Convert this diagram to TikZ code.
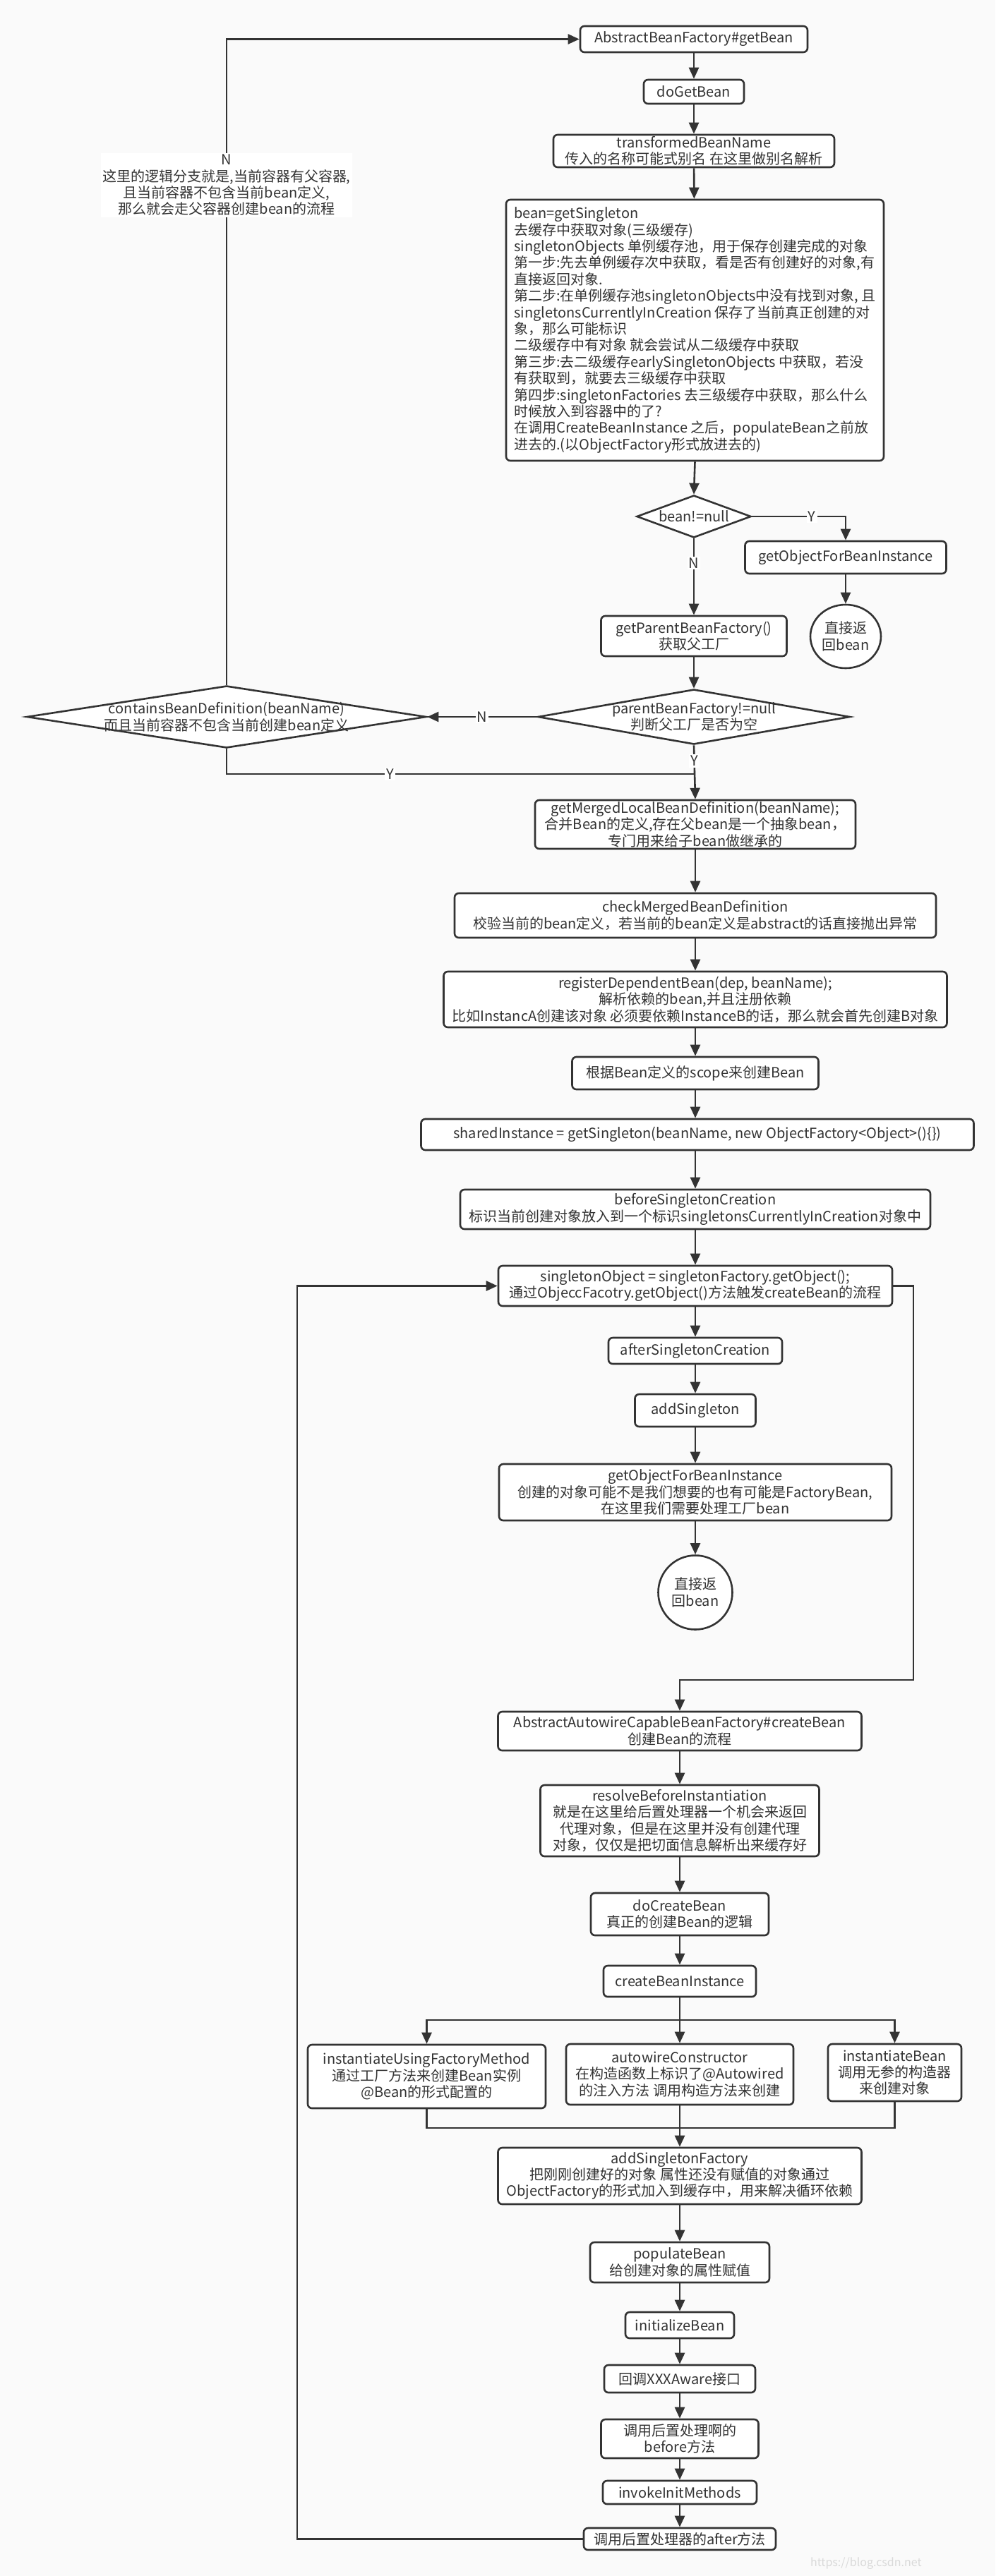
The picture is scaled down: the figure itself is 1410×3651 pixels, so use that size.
\documentclass[tikz,border=0pt]{standalone}
\usepackage{fontspec}
\setmainfont{Noto Sans CJK SC}
\usetikzlibrary{shapes.geometric,arrows.meta}
\definecolor{ink}{HTML}{333333}
\definecolor{paper}{HTML}{FAFAFA}
\tikzset{
	proc/.style={draw=ink, fill=white, line width=1.3pt, rounded corners=3pt, align=center, inner xsep=3pt, inner ysep=0pt, text=ink},
	sz/.style 2 args={minimum width=#1*0.5pt, minimum height=#2*0.5pt},
	dia/.style={diamond, draw=ink, fill=white, line width=1.3pt, inner sep=0pt},
	diatext/.style={align=center, text=ink, inner sep=0pt},
	oval/.style={ellipse, draw=ink, fill=white, line width=1.3pt, inner sep=0pt, align=center, text=ink},
	flow/.style={draw=ink, line width=1.3pt, -{Triangle[length=8pt,width=7pt]}},
	wire/.style={draw=ink, line width=1.3pt},
	lbl/.style={fill=white, inner sep=1pt, text=ink, align=center}
}

\begin{document}
\begin{tikzpicture}[x=0.5pt, y=-0.5pt, font=\fontsize{10pt}{11.7pt}\selectfont]
			%%%%% START %%%%%
			\def\mx{983}
			\def\lx{963}
			\def\rx{1198}
			\def\cx{321}

			\fill[paper] (0,0) rectangle (1410,3651);
			\useasboundingbox (0,0) rectangle (1410,3651);

			% getBean part
			\node[proc, sz={322}{37}] (getbean) at (\mx,55.5) {AbstractBeanFactory\#getBean};
			\node[proc, sz={142}{34}] (dogetbean) at (\mx,130) {doGetBean};
			\node[proc, sz={398}{46}] (transname) at (\mx,214) {transformedBeanName\\传入的名称可能式别名 在这里做别名解析};
			\node[proc, sz={535}{370}, align=left] (getsingleton) at (984.5,468) {bean=getSingleton\\
去缓存中获取对象(三级缓存)\\
singletonObjects 单例缓存池，用于保存创建完成的对象\\
第一步:先去单例缓存次中获取，看是否有创建好的对象,有\\
直接返回对象.\\
第二步:在单例缓存池singletonObjects中没有找到对象, 且\\
singletonsCurrentlyInCreation 保存了当前真正创建的对\\
象，那么可能标识\\
二级缓存中有对象 就会尝试从二级缓存中获取\\
第三步:去二级缓存earlySingletonObjects 中获取，若没\\
有获取到，就要去三级缓存中获取\\
第四步:singletonFactories 去三级缓存中获取，那么什么\\
时候放入到容器中的了?\\
在调用CreateBeanInstance 之后，populateBean之前放\\
进去的.(以ObjectFactory形式放进去的)};

			\node[dia, sz={162}{60}] (beannull) at (\mx,732) {};
			\node[diatext] (beannulltext) at (beannull) {bean!=null};
			\node[proc, sz={285}{46}] (getobjone) at (\rx,790) {getObjectForBeanInstance};
			\node[oval, sz={100}{90}] (retone) at (\rx,902) {直接返\\回bean};
			\node[proc, sz={263}{57}] (getparent) at (\mx,901.5) {getParentBeanFactory()\\获取父工厂};
			\node[dia, sz={442}{78}] (parentnull) at (\mx,1016) {};
			\node[diatext] (parentnulltext) at (parentnull) {parentBeanFactory!=null\\判断父工厂是否为空};
			\node[dia, sz={566}{88}] (containsdef) at (\cx,1016) {};
			\node[diatext] (containsdeftext) at (containsdef) {containsBeanDefinition(beanName)\\而且当前容器不包含当前创建bean定义};
			\coordinate (yjoin) at (\mx,1097);

			% merged definition and singleton
			\node[proc, sz={454}{69}] (getmerged) at (985,1168.5) {getMergedLocalBeanDefinition(beanName);\\合并Bean的定义,存在父bean是一个抽象bean，\\专门用来给子bean做继承的};
			\node[proc, sz={682}{63}] (checkmerged) at (985,1297.5) {checkMergedBeanDefinition\\校验当前的bean定义，若当前的bean定义是abstract的话直接抛出异常};
			\node[proc, sz={713}{79}] (registerdep) at (985,1416.5) {registerDependentBean(dep, beanName);\\解析依赖的bean,并且注册依赖\\比如InstancA创建该对象 必须要依赖InstanceB的话，那么就会首先创建B对象};
			\node[proc, sz={349}{46}] (byscope) at (985,1521) {根据Bean定义的scope来创建Bean};
			\node[proc, sz={783}{44}] (sharedinst) at (988,1608) {sharedInstance = getSingleton(beanName, new ObjectFactory<Object>()\{\})};
			\node[proc, sz={666}{56}] (beforesingle) at (985,1714) {beforeSingletonCreation\\标识当前创建对象放入到一个标识singletonsCurrentlyInCreation对象中};
			\node[proc, sz={558}{57}] (singleobj) at (985,1822.5) {singletonObject = singletonFactory.getObject();\\通过ObjeccFacotry.getObject()方法触发createBean的流程};
			\node[proc, sz={246}{37}] (aftersingle) at (985,1914.5) {afterSingletonCreation};
			\node[proc, sz={171}{46}] (addsingle) at (985,1999) {addSingleton};
			\node[proc, sz={556}{80}] (getobjtwo) at (985,2115) {getObjectForBeanInstance\\创建的对象可能不是我们想要的也有可能是FactoryBean,\\在这里我们需要处理工厂bean};
			\node[oval, sz={105}{105}] (rettwo) at (985,2257) {直接返\\回bean};
			\coordinate (loopr) at (1294,2381);
			\coordinate (loopl) at (421,1822.5);

			% createBean part
			\node[proc, sz={515}{55}] (createbean) at (\lx,2453.5) {AbstractAutowireCapableBeanFactory\#createBean\\创建Bean的流程};
			\node[proc, sz={395}{101}] (resolvebefore) at (\lx,2580.5) {resolveBeforeInstantiation\\就是在这里给后置处理器一个机会来返回\\代理对象，但是在这里并没有创建代理\\对象，仅仅是把切面信息解析出来缓存好};
			\node[proc, sz={252}{60}] (docreate) at (\lx,2713) {doCreateBean\\真正的创建Bean的逻辑};
			\node[proc, sz={216}{44}] (createinst) at (\lx,2808) {createBeanInstance};
			\coordinate (split) at (\lx,2863);
			\node[proc, sz={337}{90}] (factorymeth) at (604.5,2943) {instantiateUsingFactoryMethod\\通过工厂方法来创建Bean实例\\@Bean的形式配置的};
			\node[proc, sz={322}{86}] (autowirecons) at (\lx,2940) {autowireConstructor\\在构造函数上标识了@Autowired\\的注入方法 调用构造方法来创建};
			\node[proc, sz={189}{81}] (instbean) at (1267.5,2937.5) {instantiateBean\\调用无参的构造器\\来创建对象};
			\coordinate (merge) at (\lx,3016);
			\node[proc, sz={515}{80}] (addfactory) at (\lx,3084) {addSingletonFactory\\把刚刚创建好的对象 属性还没有赋值的对象通过\\ObjectFactory的形式加入到缓存中，用来解决循环依赖};
			\node[proc, sz={254}{57}] (populate) at (\lx,3206.5) {populateBean\\给创建对象的属性赋值};
			\node[proc, sz={154}{37}] (initbean) at (\lx,3295.5) {initializeBean};
			\node[proc, sz={214}{39}] (aware) at (\lx,3371.5) {回调XXXAware接口};
			\node[proc, sz={223}{55}] (beforemeth) at (\lx,3456.5) {调用后置处理啊的\\before方法};
			\node[proc, sz={218}{33}] (invokeinit) at (\lx,3532.5) {invokeInitMethods};
			\node[proc, sz={272}{31}] (aftermeth) at (\lx,3598.5) {调用后置处理器的after方法};

			% connectors
			\draw[flow] (getbean) -- (dogetbean);
			\draw[flow] (dogetbean) -- (transname);
			\draw[flow] (transname) -- (getsingleton);
			\draw[flow] (getsingleton.south) -- (beannull.north);
			\draw[flow] (beannull.east) -| (getobjone.north) node[lbl, pos=.32] (ylabelone) {Y};
			\draw[flow] (getobjone) -- (retone);
			\draw[flow] (beannull.south) -- (getparent.north) node[lbl, pos=.32] (nlabelone) {N};
			\draw[flow] (getparent) -- (parentnull.north);
			\draw[flow] (parentnull.west) -- (containsdef.east) node[lbl, pos=.5] (nlabeltwo) {N};
			\draw[flow] (containsdef.north) |- (getbean.west) node[lbl, pos=.387] (nlabelthree) {N\\这里的逻辑分支就是,当前容器有父容器,\\且当前容器不包含当前bean定义,\\那么就会走父容器创建bean的流程};
			\draw[flow] (parentnull.south) -- (getmerged.north) node[lbl, pos=.29] (ylabeltwo) {Y};
			\draw[wire] (containsdef.south) |- (yjoin) node[lbl, pos=.675] (ylabelthree) {Y};
			\draw[flow] (getmerged) -- (checkmerged);
			\draw[flow] (checkmerged) -- (registerdep);
			\draw[flow] (registerdep) -- (byscope);
			\draw[flow] (byscope) -- (sharedinst.north -| byscope);
			\draw[flow] (sharedinst.south -| beforesingle) -- (beforesingle);
			\draw[flow] (beforesingle) -- (singleobj);
			\draw[flow] (singleobj) -- (aftersingle);
			\draw[flow] (aftersingle) -- (addsingle);
			\draw[flow] (addsingle) -- (getobjtwo);
			\draw[flow] (getobjtwo) -- (rettwo);
			\draw[flow] (singleobj.east) -| (loopr) -| (createbean.north);
			\draw[flow] (createbean) -- (resolvebefore);
			\draw[flow] (resolvebefore) -- (docreate);
			\draw[flow] (docreate) -- (createinst);
			\draw[flow] (createinst) -- (autowirecons);
			\draw[flow] (split) -| (factorymeth.north);
			\draw[flow] (split) -| (instbean.north);
			\draw[wire] (factorymeth.south) |- (merge) -| (instbean.south);
			\draw[flow] (autowirecons) -- (addfactory);
			\draw[flow] (addfactory) -- (populate);
			\draw[flow] (populate) -- (initbean);
			\draw[flow] (initbean) -- (aware);
			\draw[flow] (aware) -- (beforemeth);
			\draw[flow] (beforemeth) -- (invokeinit);
			\draw[flow] (invokeinit) -- (aftermeth);
			\draw[flow] (aftermeth.west) -| (loopl) -- (singleobj.west);

			\node[anchor=west, text=black!15, font=\fontsize{8pt}{9pt}\selectfont] (mark) at (1141,3633) {https://blog.csdn.net};
			%%%%% END %%%%%
\end{tikzpicture}
\end{document}
